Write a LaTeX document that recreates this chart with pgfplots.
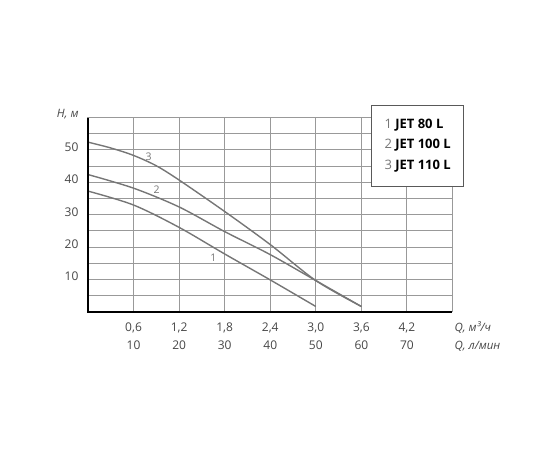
\documentclass[border=0pt]{standalone}
\usepackage{pgfplots}
\pgfplotsset{compat=1.18}
\usepackage{fontspec}
\setmainfont{Open Sans}
\definecolor{curvegray}{RGB}{118,118,118}
\definecolor{txt}{RGB}{70,70,70}
\begin{document}
\begin{tikzpicture}[x=1pt,y=1pt]
\path (0,0) rectangle (550,450);
\begin{axis}[
  at={(88pt,138pt)}, anchor=south west,
  scale only axis, width=364.5pt, height=194.5pt,
  xmin=0, xmax=4.8, ymin=0, ymax=60,
  axis line style={black!40, line width=1pt},
  xtick={0.6,1.2,1.8,2.4,3.0,3.6,4.2},
  xticklabels={{0,6\\10},{1,2\\20},{1,8\\30},{2,4\\40},{3,0\\50},{3,6\\60},{4,2\\70}},
  ytick={10,20,30,40,50},
  yticklabels={10,20,30,40,50},
  minor ytick={5,15,25,35,45,55},
  grid=both,
  grid style={black!40, line width=1pt},
  major grid style={black!40, line width=1pt},
  minor grid style={black!40, line width=1pt},
  major tick length=0pt, minor tick length=0pt,
  xticklabel style={align=center, font=\fontsize{12}{18}\selectfont, text=txt, yshift=-7pt},
  yticklabel style={font=\fontsize{12}{14}\selectfont, text=txt, yshift=3pt, xshift=-6pt},
  clip=false,
]
\addplot[curvegray, line width=1.4pt, smooth] coordinates {
  (0,37.3) (0.6,33.0) (1.2,26.1) (1.8,17.9) (2.4,9.9) (3.0,1.7)};
\addplot[curvegray, line width=1.4pt, smooth] coordinates {
  (0,42.4) (0.6,38.2) (1.2,32.4) (1.8,24.8) (2.4,17.7) (3.0,9.7) (3.6,1.7)};
\addplot[curvegray, line width=1.4pt, smooth] coordinates {
  (0,52.4) (0.3,50.6) (0.6,48.3) (0.9,45.1) (1.2,40.7) (1.8,31.0) (2.4,20.8) (3.0,9.7) (3.6,1.7)};
\draw[black, line width=1.8pt] (rel axis cs:0,1) -- (rel axis cs:0,0) -- (rel axis cs:1,0);
\node[text=curvegray, font=\fontsize{10.5}{12}\selectfont] at (axis cs:0.80,48.0) {3};
\node[text=curvegray, font=\fontsize{10.5}{12}\selectfont] at (axis cs:0.905,37.6) {2};
\node[text=curvegray, font=\fontsize{10.5}{12}\selectfont] at (axis cs:1.65,16.8) {1};
\end{axis}
\node[text=txt, font=\fontsize{11.5}{13}\selectfont\itshape] at (67.7,336) {H, м};
\node[text=txt, font=\fontsize{11.5}{13}\selectfont\itshape, anchor=west] at (451,122) {Q, м³/ч};
\node[text=txt, font=\fontsize{11.5}{13}\selectfont\itshape, anchor=west] at (451,104) {Q, л/мин};
\draw[fill=white, draw=black!65, line width=0.7pt] (371.7,344.3) rectangle (463.3,263.3);
\node[anchor=west, font=\fontsize{13}{15}\selectfont] at (381,325) {\textcolor{curvegray}{1} \textbf{JET 80 L}};
\node[anchor=west, font=\fontsize{13}{15}\selectfont] at (381,305) {\textcolor{curvegray}{2} \textbf{JET 100 L}};
\node[anchor=west, font=\fontsize{13}{15}\selectfont] at (381,284) {\textcolor{curvegray}{3} \textbf{JET 110 L}};
\end{tikzpicture}
\end{document}
